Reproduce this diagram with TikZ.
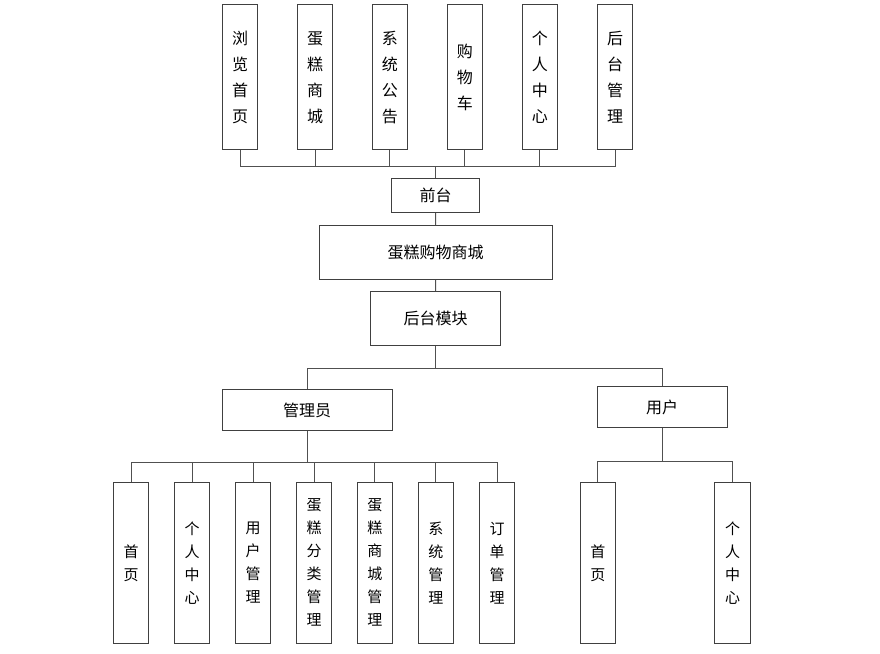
\documentclass[tikz,border=0pt]{standalone}
\usepackage{fontspec}
\newfontfamily\cjk{Noto Sans CJK SC}
\definecolor{boxline}{HTML}{404040}
\definecolor{conn}{HTML}{505050}
\begin{document}
\begin{tikzpicture}[x=1pt,y=-1pt,
  box/.style={draw=boxline,line width=1pt,fill=white,inner sep=0pt,align=center,text=black},
  hbox/.style={box,font=\cjk\fontsize{16}{20}\selectfont},
  topbox/.style={box,minimum width=35pt,minimum height=145.3pt,font=\cjk\fontsize{16}{26}\selectfont},
  botbox/.style={box,minimum width=35.3pt,minimum height=161pt,font=\cjk\fontsize{15}{23}\selectfont},
  link/.style={draw=conn,line width=1pt}]
\useasboundingbox (0,0) rectangle (880,653);
% top row
\node[topbox] (t1) at (240.2,77.3) {浏\\览\\首\\页};
\node[topbox] (t2) at (315.2,77.3) {蛋\\糕\\商\\城};
\node[topbox] (t3) at (389.8,77.3) {系\\统\\公\\告};
\node[topbox] (t4) at (464.8,77.3) {购\\物\\车};
\node[topbox] (t5) at (539.8,77.3) {个\\人\\中\\心};
\node[topbox] (t6) at (615,77.3) {后\\台\\管\\理};
% middle column
\node[hbox,minimum width=87.6pt,minimum height=34.4pt] (qt) at (435.5,195.5) {前台};
\node[hbox,minimum width=233pt,minimum height=53.6pt] (sc) at (435.6,252.5) {蛋糕购物商城};
\node[hbox,minimum width=129.6pt,minimum height=53.6pt] (ht) at (435.5,318.5) {后台模块};
\node[hbox,minimum width=170.3pt,minimum height=41.4pt] (gl) at (307.2,410) {管理员};
\node[hbox,minimum width=129.7pt,minimum height=41pt] (yh) at (662.2,407.2) {用户};
% bottom admin
\node[botbox] (a1) at (131,562.8) {首\\页};
\node[botbox] (a2) at (192,562.8) {个\\人\\中\\心};
\node[botbox] (a3) at (253,562.8) {用\\户\\管\\理};
\node[botbox] (a4) at (314,562.8) {蛋\\糕\\分\\类\\管\\理};
\node[botbox] (a5) at (374.8,562.8) {蛋\\糕\\商\\城\\管\\理};
\node[botbox] (a6) at (435.8,562.8) {系\\统\\管\\理};
\node[botbox] (a7) at (497,562.8) {订\\单\\管\\理};
% bottom user
\node[botbox] (u1) at (597.8,562.8) {首\\页};
\node[botbox] (u2) at (732.5,562.8) {个\\人\\中\\心};
% bus coordinates
\coordinate (b1) at (435.5,166.7);
\coordinate (b2) at (435.5,368.7);
\coordinate (b3) at (307.2,462);
\coordinate (b4) at (662.2,461.7);
% connectors
\foreach \n in {t1,t2,t3,t4,t5,t6} \path[link] (\n.south) |- (b1);
\path[link] (b1) -- (qt.north);
\path[link] (qt.south) -- (sc.north);
\path[link] (sc.south) -- (ht.north);
\path[link] (ht.south) -- (b2);
\path[link] (b2) -| (gl.north);
\path[link] (b2) -| (yh.north);
\path[link] (gl.south) -- (b3);
\foreach \n in {a1,a2,a3,a4,a5,a6,a7} \path[link] (b3) -| (\n.north);
\path[link] (yh.south) -- (b4);
\foreach \n in {u1,u2} \path[link] (b4) -| (\n.north);
\end{tikzpicture}
\end{document}
